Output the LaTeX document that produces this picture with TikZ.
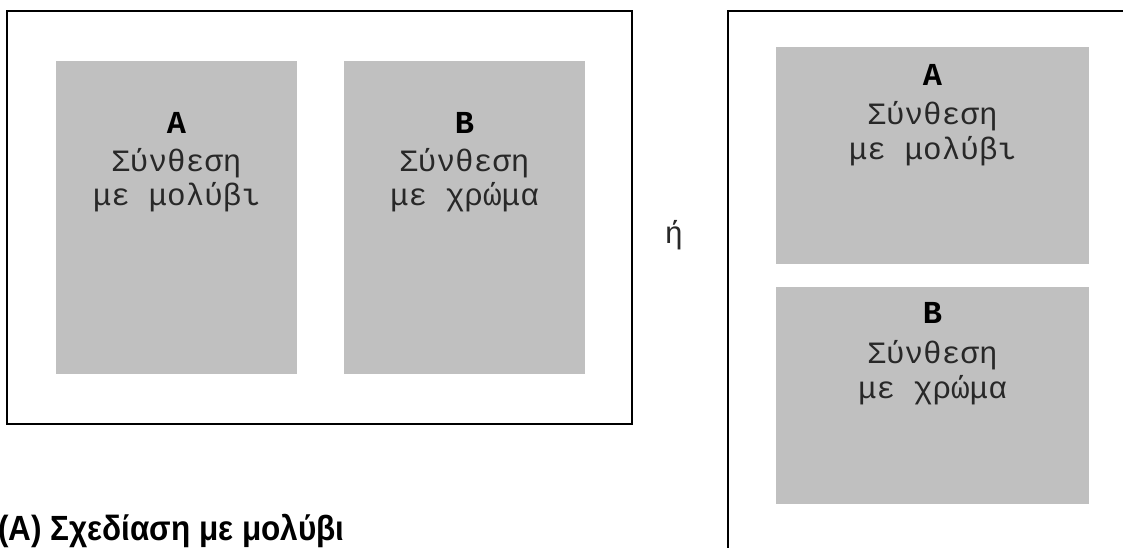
\documentclass[tikz,border=0pt]{standalone}
\usepackage{fontspec}
\setmainfont{Liberation Sans}
\newfontfamily\monofont{Liberation Mono}
\definecolor{panelgray}{RGB}{192,192,192}
\definecolor{inkgray}{RGB}{40,40,40}
\tikzset{
  frame/.style={draw=black, line width=2.2pt},
  panel/.style={fill=panelgray, draw=none, inner sep=0pt, outer sep=0pt},
  tallpanel/.style={panel, minimum width=241pt, minimum height=313pt},
  widepanel/.style={panel, minimum width=313pt, minimum height=217pt},
  lbl/.style={font=\monofont\fontsize{31}{36}\selectfont, anchor=base, text=inkgray, inner sep=0pt},
  lblbold/.style={lbl, font=\monofont\bfseries\fontsize{32}{36}\selectfont, text=black},
  caption/.style={font=\bfseries\fontsize{35}{40}\selectfont, anchor=base west, inner sep=0pt}
}
\begin{document}
\begin{tikzpicture}[x=1pt,y=-1pt]
\useasboundingbox (0,0) rectangle (1123,547);
\clip (0,0) rectangle (1123,547);
\fill[white] (0,0) rectangle (1123,547);
% left layout
\draw[frame] (7,11) rectangle (632,424);
\node[tallpanel] (pA) at (176.5,217.5) {};
\node[tallpanel] (pB) at (464.5,217.5) {};
\node[lblbold] (pA1) at (176.5,133) {A};
\node[lbl] (pA2) at (176.5,171) {Σύνθεση};
\node[lbl] (pA3) at (176.5,205) {με μολύβι};
\node[lblbold] (pB1) at (464.5,133) {B};
\node[lbl] (pB2) at (464.5,171) {Σύνθεση};
\node[lbl] (pB3) at (464.5,205) {με χρώμα};
% or
\node[lbl] (or) at (674,243) {ή};
% right layout
\draw[frame] (1140,11) -- (728,11) -- (728,560);
\node[widepanel] (qA) at (932.5,155.5) {};
\node[widepanel] (qB) at (932.5,395.5) {};
\node[lblbold] (qA1) at (932.5,85) {A};
\node[lbl] (qA2) at (932.5,124) {Σύνθεση};
\node[lbl] (qA3) at (932.5,159) {με μολύβι};
\node[lblbold] (qB1) at (932.5,323) {B};
\node[lbl] (qB2) at (932.5,363) {Σύνθεση};
\node[lbl] (qB3) at (932.5,398) {με χρώμα};
% caption
\node[caption] (cap) at (-2,540) {\scalebox{0.9}[1]{(A) Σχεδίαση με μολύβι}};
\end{tikzpicture}
\end{document}
